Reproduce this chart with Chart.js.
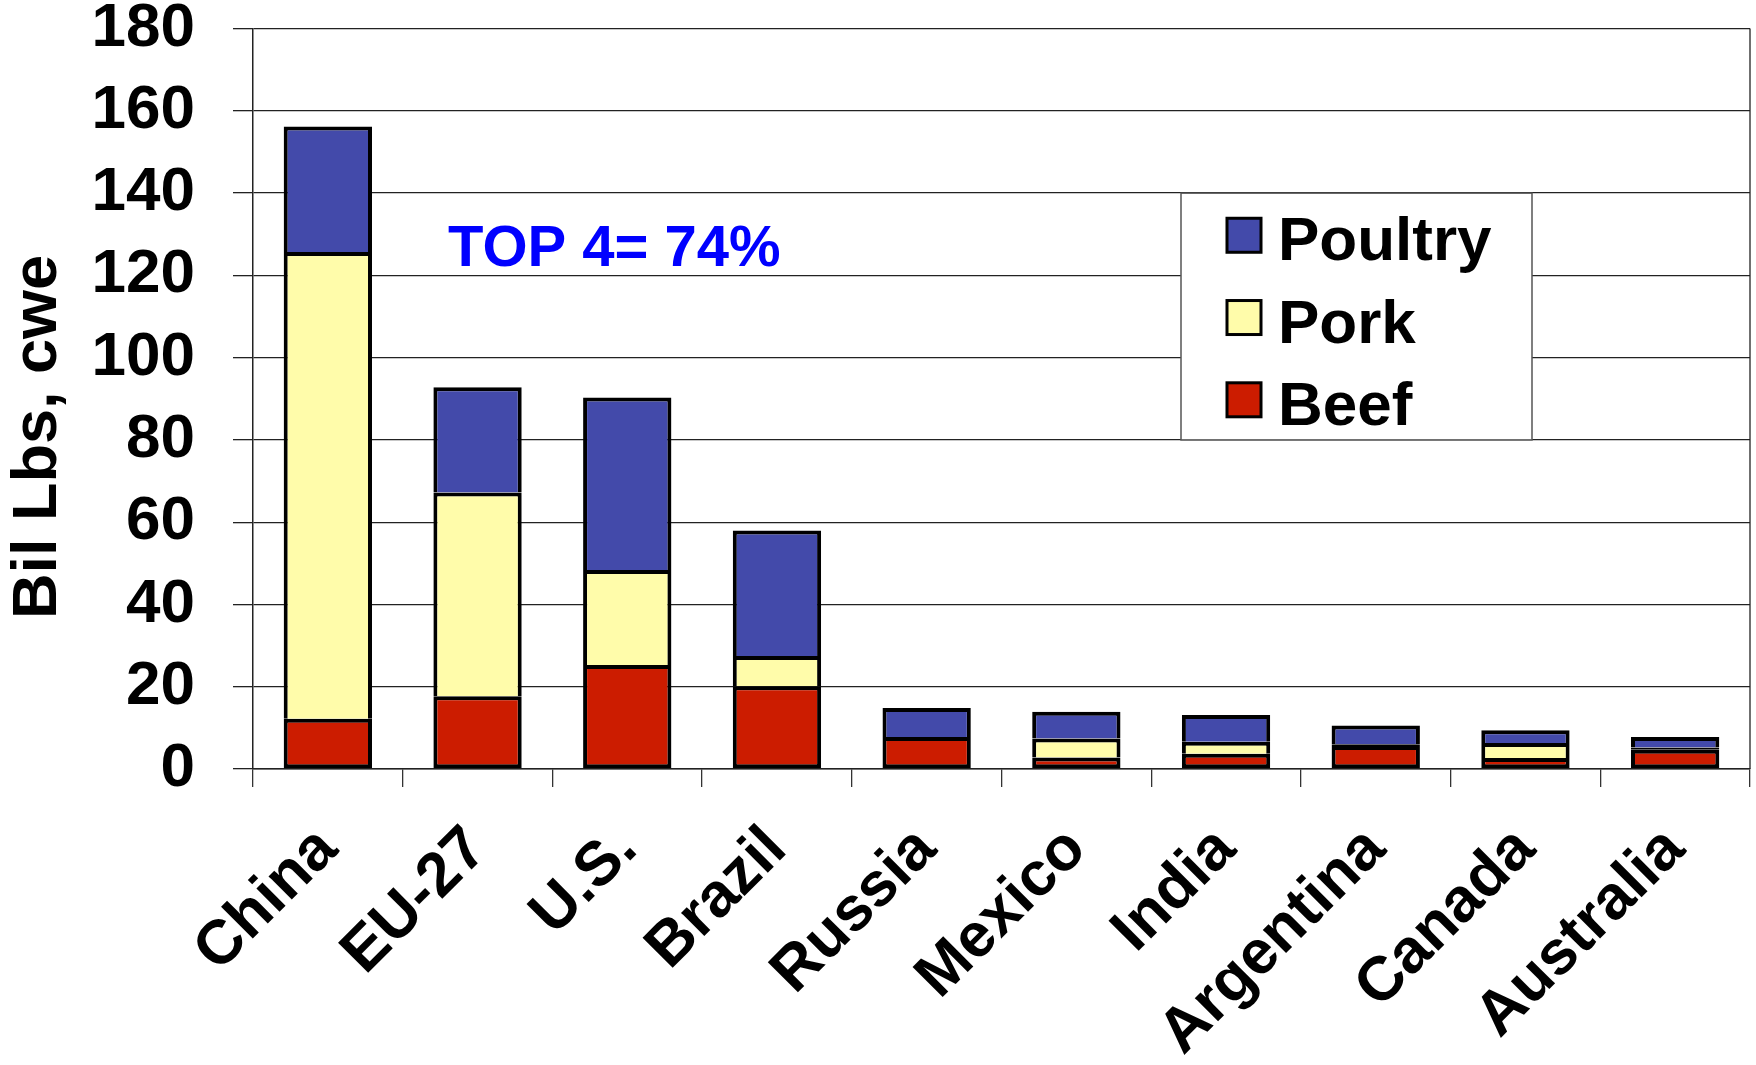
<!DOCTYPE html>
<html>
<head>
<meta charset="utf-8">
<script src="https://cdn.jsdelivr.net/npm/chart.js@4.4.1/dist/chart.umd.min.js"></script>
<style>
html,body{margin:0;padding:0;background:#fff;}
#wrap{width:1756px;height:1065px;position:relative;}
</style>
</head>
<body>
<div id="wrap"><canvas id="c" width="1756" height="1065"></canvas></div>
<script>
const categories = ['China','EU-27','U.S.','Brazil','Russia','Mexico','India','Argentina','Canada','Australia'];
const beef    = [12.2, 17.7, 25.3, 20.1, 7.8, 2.8, 3.7, 5.6, 2.7, 4.7];
const pork    = [113.5, 49.5, 23.1, 7.4, 0, 4.6, 2.9, 0.4, 3.6, 0.5];
const poultry = [30.5, 25.6, 41.9, 30.5, 7.0, 6.5, 6.5, 4.6, 3.1, 2.6];
const yTicks  = [0,20,40,60,80,100,120,140,160,180];
const yTitle = 'Bil Lbs, cwe';
const note = 'TOP 4= 74%';

const FONT = "'Liberation Sans', Arial, Helvetica, sans-serif";
const COLORS = {beef:'#CC1C00', pork:'#FFFCAA', poultry:'#434AAA'};

const extras = {
  id:'extras',
  afterDraw(chart){
    const ctx = chart.ctx, a = chart.chartArea;
    ctx.save();
    ctx.strokeStyle = '#222'; ctx.lineWidth = 1.3;
    ctx.beginPath(); ctx.moveTo(a.right, a.top); ctx.lineTo(a.right, a.bottom); ctx.stroke();
    ctx.fillStyle = '#000';
    ctx.font = 'bold 63px ' + FONT;
    ctx.textAlign = 'center'; ctx.textBaseline = 'middle';
    ctx.translate(39, 437); ctx.rotate(-Math.PI/2);
    ctx.fillText(yTitle, 0, 0);
    ctx.restore();

    ctx.save();
    ctx.fillStyle = '#0000FF';
    ctx.font = 'bold 58px ' + FONT;
    ctx.textAlign = 'left'; ctx.textBaseline = 'middle';
    ctx.fillText(note, 448, 250);
    ctx.restore();

    const y = chart.scales.y;
    const top = y.getPixelForValue(140), bottom = y.getPixelForValue(80);
    const left = 1181, right = 1532;
    ctx.save();
    ctx.fillStyle = '#fff';
    ctx.fillRect(left, top, right-left, bottom-top);
    ctx.strokeStyle = '#555'; ctx.lineWidth = 1.5;
    ctx.strokeRect(left, top, right-left, bottom-top);
    const ds = chart.data.datasets.slice().reverse();
    const rowH = (bottom-top)/3;
    ctx.font = 'bold 62px ' + FONT;
    ctx.textBaseline = 'middle'; ctx.textAlign = 'left';
    ds.forEach((d,i)=>{
      const cy = top + rowH*(i+0.5) + 1;
      ctx.fillStyle = d.backgroundColor;
      ctx.fillRect(1227, cy-17, 34, 34);
      ctx.strokeStyle = '#000'; ctx.lineWidth = 3;
      ctx.strokeRect(1227, cy-17, 34, 34);
      ctx.fillStyle = '#000';
      ctx.fillText(d.label, 1278, cy+8);
    });
    ctx.restore();
  }
};

new Chart(document.getElementById('c'), {
  type:'bar',
  data:{
    labels: categories,
    datasets:[
      {label:'Beef', data:beef, backgroundColor:COLORS.beef, borderColor:'#000', borderWidth:4, borderSkipped:false},
      {label:'Pork', data:pork, backgroundColor:COLORS.pork, borderColor:'#000', borderWidth:4,
        borderSkipped:(c)=> (c.raw !== undefined && c.raw < 1) ? false : 'start'},
      {label:'Poultry', data:poultry, backgroundColor:COLORS.poultry, borderColor:'#000', borderWidth:4, borderSkipped:'start'}
    ]
  },
  options:{
    responsive:false,
    animation:false,
    devicePixelRatio:1,
    layout:{padding:{top:0, right:6, left:0, bottom:0}},
    plugins:{legend:{display:false}, tooltip:{enabled:false}, title:{display:false}},
    datasets:{bar:{categoryPercentage:1, barPercentage:0.59}},
    scales:{
      x:{
        stacked:true,
        offset:true,
        grid:{display:true, offset:true, drawOnChartArea:false, drawTicks:true, tickLength:18, color:'#333', lineWidth:1.3},
        border:{display:true, color:'#222', width:1.5},
        ticks:{color:'#000', font:{family:FONT, size:62, weight:'bold'}, minRotation:45, maxRotation:45, padding:26, autoSkip:false},
        afterFit(s){ s.height = 296; }
      },
      y:{
        stacked:true,
        min:0, max:180,
        afterBuildTicks(s){ s.ticks = yTicks.map(v=>({value:v})); },
        grid:{color:'#222', lineWidth:1.3, drawTicks:true, tickLength:20},
        border:{display:true, color:'#222', width:1.5},
        ticks:{color:'#000', font:{family:FONT, size:62, weight:'bold'}, padding:38},
        afterFit(s){ s.width = 253; s.paddingTop = 28.6; s.paddingBottom = 0; }
      }
    }
  },
  plugins:[extras]
});
</script>
</body>
</html>
